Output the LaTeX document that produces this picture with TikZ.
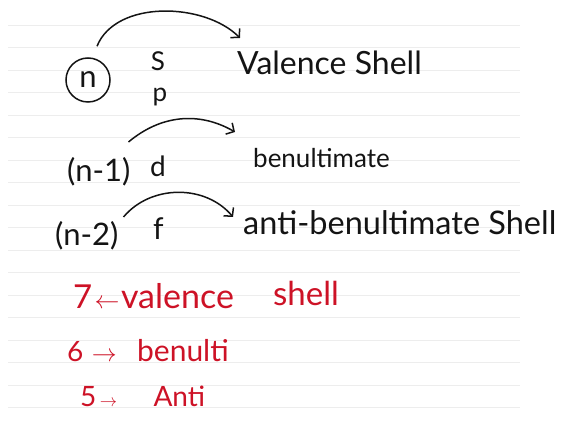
\documentclass[tikz,border=0pt]{standalone}
\usepackage{fontspec}
\setmainfont{Lato}
\usepackage{xcolor}
\usetikzlibrary{positioning,arrows.meta}
\definecolor{inkblack}{RGB}{20,20,20}
\definecolor{inkred}{RGB}{205,18,38}

\begin{document}
\begin{tikzpicture}[
    x=1pt, y=1pt,
    word/.style={inner sep=0pt, anchor=base west, text=inkblack, font=\fontsize{#1}{#1}\selectfont},
    redword/.style={word=#1, text=inkred},
    curve/.style={-{Straight Barb[length=6pt,width=13pt]}, line width=1.5pt, inkblack},
    ruling/.style={black!7, line width=0.6pt}
]
\useasboundingbox (0,0) rectangle (567,426);

% ruled page
\foreach \k in {0,...,17}
  \draw[ruling] (8,{401-22.5*\k}) -- (520,{401-22.5*\k});

% shells
\node[draw=inkblack, circle, line width=1.5pt, minimum size=44pt, inner sep=0pt, text=inkblack, font=\fontsize{31}{31}\selectfont] (nc) at (88,346) {n};
\node[word=26, anchor=center] (s) at (158,365) {S};
\node[word=26, anchor=center] (p) at (160,329) {p};
\node[word=32] (vs) at (237,351) {Valence Shell};

\node[word=31] (n1) at (67,244) {(n-1)};
\node[word=28] (d) at (150,249) {d};
\node[word=26] (bu) at (253,258) {benultimate};

\node[word=31] (n2) at (55,181) {(n-2)};
\node[word=30] (f) at (153,186) {f};
\node[word=32.5] (ab) at (243,191) {anti-benultimate Shell};

\draw[curve] ([shift={(9,11)}]nc.north) to[out=68, in=135, looseness=0.9] ([shift={(3,37)}]vs.base west);
\draw[curve] ([shift={(-2,40)}]n1.base east) to[out=40, in=150] ([shift={(-18,36)}]bu.base west);
\draw[curve] ([shift={(5,28)}]n2.base east) to[out=50, in=130] ([shift={(-10,18)}]ab.base west);

% summary in red
\node[redword=33] (r7) at (73,118) {7};
\node[redword=28, right=2pt of r7.base east, anchor=base west] (a7) {$\leftarrow$};
\node[redword=34, right=1pt of a7.base east, anchor=base west] (v7) {valence};
\node[redword=33] (s7) at (273,121) {shell};

\node[redword=28] (r6) at (67,65) {6};
\node[redword=24, right=8pt of r6.base east, anchor=base west] (a6) {$\rightarrow$};
\node[redword=30, right=20pt of a6.base east, anchor=base west] (b6) {benulti};

\node[redword=28] (r5) at (80,20) {5};
\node[redword=18, right=3pt of r5.base east, anchor=base west] (a5) {$\rightarrow$};
\node[redword=28, right=36pt of a5.base east, anchor=base west] (t5) {Anti};
\end{tikzpicture}
\end{document}
